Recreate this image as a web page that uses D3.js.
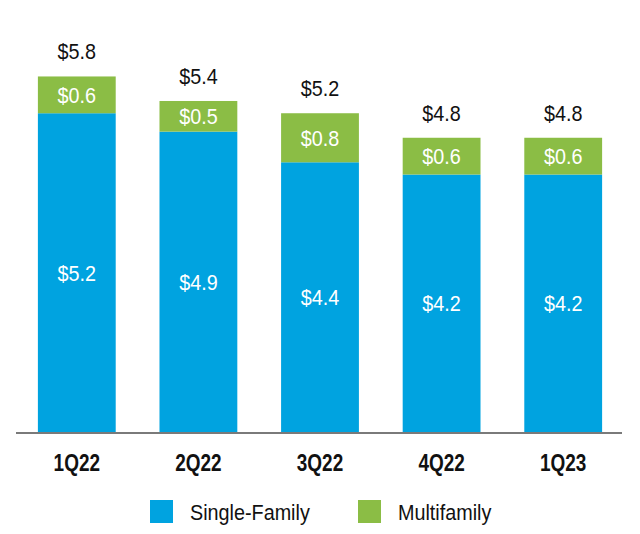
<!DOCTYPE html>
<html>
<head>
<meta charset="utf-8">
<script src="https://cdn.jsdelivr.net/npm/d3@7"></script>
<style>
  body { margin: 0; background: #fff; }
  text { font-family: "Liberation Sans", Arial, sans-serif; }
</style>
</head>
<body>
<div id="container"></div>
<script>
let w = 640;
let h = 534;

let quarters = ['1Q22', '2Q22', '3Q22', '4Q22', '1Q23'];
let singleFamily = [5.2, 4.9, 4.4, 4.2, 4.2];
let multifamily = [0.6, 0.5, 0.8, 0.6, 0.6];
let totals = [5.8, 5.4, 5.2, 4.8, 4.8];
let seriesNames = ['Single-Family', 'Multifamily'];
let colors = ['#00a3e0', '#8bbd45'];

let baseY = 432;
let narrow = 0.9; // squeeze text horizontally, the original uses a condensed face

let viz = d3.select('#container')
  .append('svg')
    .attr('width', w)
    .attr('height', h)
    .style('background-color', 'white')
;

let xScale = d3.scaleBand().domain(quarters).range([16, 624]).paddingInner(0.36).paddingOuter(0.18);
let yScale = d3.scaleLinear().domain([0, 6]).range([baseY, baseY - 6 * 61.3]);

let data = quarters.map(function(q, i){
  return {q: q, sf: singleFamily[i], mf: multifamily[i], total: totals[i]};
});

function cx(d){
  return xScale(d.q) + xScale.bandwidth() / 2;
}

function place(x, y){
  return 'translate(' + x + ',' + y + ') scale(' + narrow + ',1)';
}

let bars = viz.append('g').classed('bars', true);

// single-family segment
bars.selectAll('.sf').data(data).enter().append('rect')
  .attr('class', 'sf')
  .attr('x', d => xScale(d.q))
  .attr('width', xScale.bandwidth())
  .attr('y', d => yScale(d.sf))
  .attr('height', d => yScale(0) - yScale(d.sf))
  .attr('fill', colors[0])
;

// multifamily on top
bars.selectAll('.mf').data(data).enter().append('rect')
  .attr('class', 'mf')
  .attr('x', d => xScale(d.q))
  .attr('width', xScale.bandwidth())
  .attr('y', d => yScale(d.sf + d.mf))
  .attr('height', d => yScale(d.sf) - yScale(d.sf + d.mf))
  .attr('fill', colors[1])
;

let labels = viz.append('g').classed('labels', true).attr('text-anchor', 'middle').attr('font-size', '22px');

labels.selectAll('.sfl').data(data).enter().append('text')
  .attr('transform', d => place(cx(d), (yScale(0) + yScale(d.sf)) / 2))
  .attr('dy', '0.36em')
  .attr('fill', 'white')
  .text(d => '$' + d.sf.toFixed(1))
;

labels.selectAll('.mfl').data(data).enter().append('text')
  .attr('transform', d => place(cx(d), (yScale(d.sf) + yScale(d.sf + d.mf)) / 2))
  .attr('dy', '0.36em')
  .attr('fill', 'white')
  .text(d => '$' + d.mf.toFixed(1))
;

labels.selectAll('.tl').data(data).enter().append('text')
  .attr('transform', d => place(cx(d), yScale(d.total) - 25))
  .attr('dy', '0.36em')
  .attr('fill', '#111')
  .text(d => '$' + d.total.toFixed(1))
;

// x axis
let xAxis = d3.axisBottom(xScale).tickSize(0).tickPadding(21);
let xAxisGroup = viz.append('g')
  .attr('transform', 'translate(0,' + (baseY + 1) + ')')
  .call(xAxis);
xAxisGroup.select('.domain').attr('d', 'M16,0H622').attr('stroke', '#7a7a7a').attr('stroke-width', 2);
xAxisGroup.selectAll('text')
  .attr('font-size', '24px')
  .attr('font-weight', 'bold')
  .attr('fill', '#111')
  .attr('transform', 'scale(0.79,1)')
  .style('font-family', '"Liberation Sans", Arial, sans-serif');

// legend
let legendX = [150, 358];
let legend = viz.append('g').classed('legend', true);
legend.selectAll('rect').data(seriesNames).enter().append('rect')
  .attr('x', (d, i) => legendX[i])
  .attr('y', 500)
  .attr('width', 23)
  .attr('height', 23)
  .attr('fill', (d, i) => colors[i]);
legend.selectAll('text').data(seriesNames).enter().append('text')
  .attr('transform', (d, i) => place(legendX[i] + 40, 512))
  .attr('dy', '0.36em')
  .attr('font-size', '22px')
  .attr('fill', '#111')
  .text(d => d);
</script>
</body>
</html>
